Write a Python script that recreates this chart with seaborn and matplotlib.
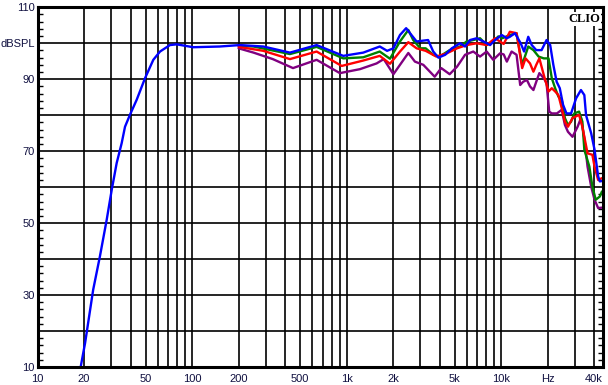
import matplotlib
matplotlib.use("Agg")
import matplotlib.pyplot as plt
from matplotlib.ticker import FixedLocator, NullLocator, MultipleLocator
import seaborn as sns
import pandas as pd

# ---- data ----
blue_f = [19, 20.3, 22.9, 25.3, 28, 30.2, 32.5, 35, 36.8, 39.6, 43.8, 49.6, 56.1, 62, 71.9, 79.5,
          101.8, 151, 204, 289, 430, 640, 952, 1282, 1640, 1830, 2010, 2217, 2430, 2630, 2840, 3370,
          3640, 3930, 4350, 4800, 5430, 5850, 6300, 6960, 7690, 8490, 9150, 10100, 10900, 11400,
          12300, 13400, 14100, 15000, 15800, 16900, 18300, 19700, 20800, 21800, 22900, 24000, 25200,
          26500, 28400, 30600, 32900, 34600, 35500, 38300, 40300, 42500, 43600, 45000]
blue_db = [10, 16.7, 31.5, 40.7, 50.9, 59.3, 66.7, 72.2, 76.8, 80.1, 84.3, 90.3, 95.4, 97.7, 99.5, 99.7,
           98.9, 99.1, 99.5, 99.1, 97.4, 99.5, 96.5, 97.4, 99.1, 97.9, 98.6, 102.3, 104.2, 102.3, 100.5, 100.9,
           97.7, 96.0, 96.8, 98.6, 100.0, 99.1, 100.9, 101.4, 100.5, 99.5, 100.9, 102.3, 101.4, 101.8,
           102.8, 100.0, 97.7, 101.8, 99.5, 98.1, 98.1, 100.9, 99.5, 94.0, 89.3, 87.5, 82.9,
           80.5, 80.5, 84.7, 87.0, 85.6, 80.0, 75.0, 70.4, 63.0, 61.6, 61.7]

green_f = [200, 250, 430, 640, 952, 1282, 1640, 1910, 2217, 2510, 2700, 3000, 3250, 3640, 4000, 4650,
           5430, 5990, 6610, 7310, 8070, 8900, 9600, 10200, 11400, 12600, 13700, 14400, 15000, 16200,
           17500, 18900, 20300, 21300, 22400, 23500, 24700, 25900, 27100, 28400, 29800, 32000, 33600,
           34600, 37300, 39000, 41000, 43600, 45000]
green_db = [99.3, 99.1, 97.0, 99.0, 95.8, 96.1, 97.7, 95.7, 100.5, 103.7, 100.9, 98.6, 98.6, 96.8, 96.3, 98.1,
            99.1, 100.5, 100.9, 101.4, 99.5, 100.5, 101.9, 101.4, 102.3, 102.8, 94.0, 96.8, 99.1, 98.1,
            96.3, 95.8, 95.8, 90.3, 87.5, 85.2, 84.3, 79.2, 77.3, 78.2, 80.5, 81.0, 78.2,
            70.4, 65.7, 60.2, 56.5, 57.4, 58.8]

red_f = [200, 289, 430, 640, 930, 1282, 1640, 1910, 2217, 2510, 2840, 3250, 3810, 4450, 5190, 5990,
         6960, 8070, 9150, 10400, 11400, 12600, 13700, 14400, 15400, 16200, 16900, 17700, 18900, 20300,
         21300, 22400, 23500, 24700, 25900, 27100, 29000, 32000, 33600, 36300, 39000, 40300, 42500, 45000]
red_db = [99.0, 97.9, 95.6, 97.7, 93.7, 95.2, 96.5, 94.3, 97.7, 100.3, 98.6, 97.9, 96.3, 97.2, 98.6, 99.5,
          100.0, 99.5, 101.4, 99.8, 103.2, 102.8, 93.1, 95.8, 94.4, 92.1, 94.0, 95.8, 91.2, 86.6,
          87.5, 86.6, 85.6, 82.0, 78.2, 76.8, 79.2, 80.1, 76.8, 69.4, 69.0, 65.7, 62.0, 62.5]

purple_f = [200, 250, 333, 450, 640, 905, 1220, 1565, 1740, 2010, 2510, 2770, 3140, 3720, 4100, 4650,
            5190, 5850, 6610, 7310, 8070, 8900, 9850, 10400, 10900, 11700, 12600, 13300, 13900, 14700,
            15400, 16200, 16900, 17700, 18900, 19700, 20500, 21300, 23000, 24700, 25900, 27100, 29000,
            31300, 32900, 34600, 36300, 38300, 40300, 42500, 45000]
purple_db = [98.6, 97.4, 95.6, 93.1, 95.4, 91.7, 92.8, 94.4, 95.6, 91.4, 97.3, 94.9, 94.0, 90.7, 93.1, 91.4,
             93.5, 96.8, 97.7, 96.3, 97.7, 95.4, 97.2, 96.9, 94.9, 97.7, 96.8, 88.4, 89.3, 89.8,
             88.0, 87.0, 89.3, 91.7, 90.3, 88.9, 81.0, 80.5, 80.5, 81.5, 77.3, 75.4, 74.0,
             76.8, 79.2, 73.6, 65.7, 60.2, 56.5, 54.2, 54.3]

x_label_vals = [10, 20, 50, 100, 200, 500, 1000, 2000, 5000, 10000, 20000, 40000]
x_label_txt = ["10", "20", "50", "100", "200", "500", "1k", "2k", "5k", "10k", "Hz", "40k"]
y_tick_vals = [10, 20, 30, 40, 50, 60, 70, 80, 90, 100, 110]
y_tick_txt = ["10", "", "30", "", "50", "", "70", "", "90", "dBSPL", "110"]

# ---- plot ----
sns.set_style("white")
plt.rcParams["font.family"] = ["Liberation Sans", "DejaVu Sans"]

fig = plt.figure(figsize=(6.08, 3.85), dpi=100)
ax = fig.add_axes([37.6 / 608, 1 - 367 / 385, (603 - 37.6) / 608, (367 - 7.3) / 385])

series = [("purple", purple_f, purple_db, "#800080"),
          ("green", green_f, green_db, "#008000"),
          ("red", red_f, red_db, "#ff0000"),
          ("blue", blue_f, blue_db, "#0000ff")]
for name, f, d, c in series:
    df = pd.DataFrame({"f": f, "db": d})
    sns.lineplot(data=df, x="f", y="db", ax=ax, color=c, linewidth=1.7,
                 estimator=None, sort=False, zorder=3)

ax.set_xscale("log")
ax.set_xlim(10, 45700)
ax.set_ylim(10, 110)

grid_f = [k * 10 ** d for d in range(1, 5) for k in range(1, 10) if 10 <= k * 10 ** d <= 45000]
ax.xaxis.set_major_locator(FixedLocator(grid_f))
ax.xaxis.set_minor_locator(NullLocator())
lab = dict(zip(x_label_vals, x_label_txt))
ax.set_xticklabels([lab.get(g, "") for g in grid_f])

ax.yaxis.set_major_locator(FixedLocator(y_tick_vals))
ax.set_yticklabels(y_tick_txt)
ax.yaxis.set_minor_locator(MultipleLocator(2))

ax.grid(True, which="major", color="black", linewidth=1.2)
ax.tick_params(axis="x", which="major", length=0, pad=5, labelsize=8, labelcolor="#101040")
ax.tick_params(axis="y", which="major", length=0, pad=2, labelsize=8, labelcolor="#101040")
ax.tick_params(axis="y", which="minor", direction="in", length=3.5, width=1,
               left=True, right=True, color="black")
ax.set_xlabel("")
ax.set_ylabel("")
for s in ax.spines.values():
    s.set_color("black")
    s.set_linewidth(2.2)
    s.set_zorder(5)

ax.text(0.995, 0.985, "CLIO", transform=ax.transAxes, ha="right", va="top",
        fontsize=9, fontweight="bold", family=["Liberation Serif", "DejaVu Serif"],
        color="black", zorder=6,
        bbox=dict(facecolor="white", edgecolor="none", pad=0.6))

fig.savefig("out.png", dpi=100)
